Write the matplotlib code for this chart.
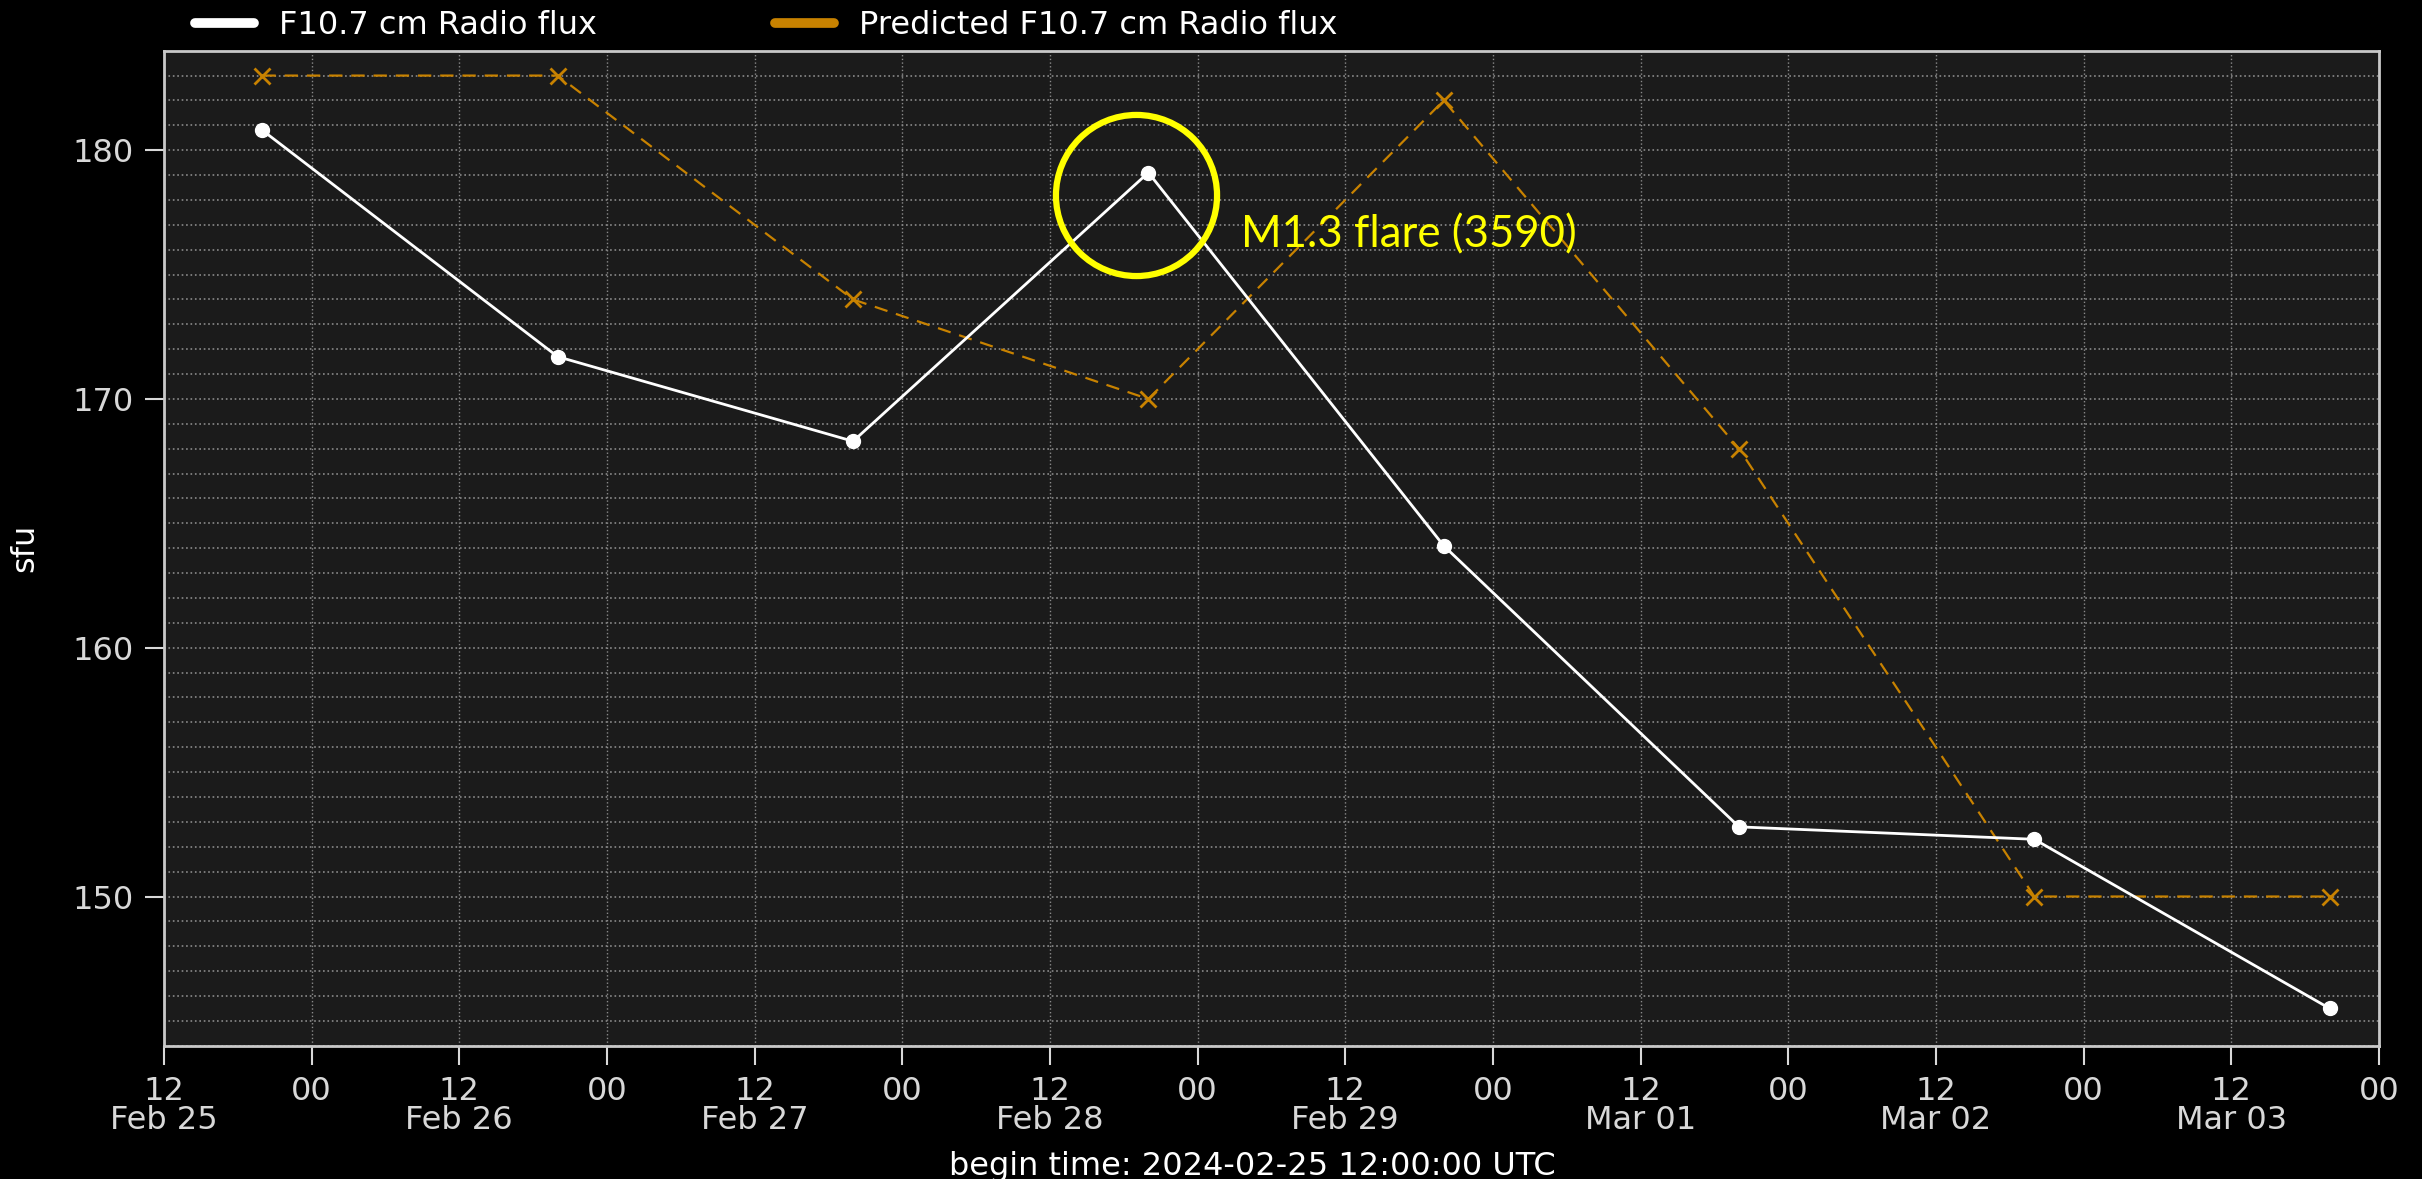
"""F10.7 cm radio flux: observed vs predicted, dark style."""

from datetime import datetime

import matplotlib
matplotlib.use("Agg")
import matplotlib.pyplot as plt
import matplotlib.dates as mdates
from matplotlib.lines import Line2D
from matplotlib.ticker import MultipleLocator, FuncFormatter

# --- data ---
dates = ["2024-02-25 20:00", "2024-02-26 20:00", "2024-02-27 20:00", "2024-02-28 20:00",
         "2024-02-29 20:00", "2024-03-01 20:00", "2024-03-02 20:00", "2024-03-03 20:00"]
observed = [180.8, 171.7, 168.3, 179.1, 164.1, 152.8, 152.3, 145.5]
predicted = [183, 183, 174, 170, 182, 168, 150, 150]

flare_label = "M1.3 flare (3590)"
flare_circle = ("2024-02-28 19:00", 178.2)
flare_text = ("2024-02-29 03:30", 176.6)
begin = "2024-02-25 12:00"
end = "2024-03-04 00:00"

ORANGE = "#c88200"
GRID = "#8a8a8a"
TXT = "#d8d8d8"
FS = 23


def ts(s):
    return datetime.strptime(s, "%Y-%m-%d %H:%M")


def main() -> None:
    x = [ts(d) for d in dates]

    fig = plt.figure(figsize=(24.22, 11.79), dpi=100, facecolor="black")
    ax = fig.add_axes([0.0677, 0.113, 0.9145, 0.844])
    ax.set_facecolor("#1b1b1b")

    ax.plot(x, observed, color="white", lw=2, marker="o", ms=10, zorder=4)
    ax.plot(x, predicted, color=ORANGE, lw=1.6, ls=(0, (6, 4)), marker="x",
            ms=12, mew=2, zorder=3)

    # flare annotation
    ax.plot([ts(flare_circle[0])], [flare_circle[1]], marker="o", ms=116,
            mfc="none", mec="yellow", mew=4.5, zorder=5)
    ax.text(ts(flare_text[0]), flare_text[1], flare_label, color="yellow",
            fontsize=31.5, family="Lato", va="center", ha="left", zorder=5)

    ax.set_xlim(ts(begin), ts(end))
    ax.set_ylim(144, 184)

    ax.xaxis.set_major_locator(mdates.HourLocator(byhour=[0, 12]))

    def fmt(v, pos):
        d = mdates.num2date(v)
        if d.hour == 12:
            return d.strftime("%H\n%b %d")
        return d.strftime("%H")

    ax.xaxis.set_major_formatter(FuncFormatter(fmt))
    ax.yaxis.set_major_locator(MultipleLocator(10))
    ax.yaxis.set_minor_locator(MultipleLocator(1))

    ax.tick_params(axis="both", which="major", colors=TXT, labelsize=FS,
                   length=14, width=1.5, pad=8)
    ax.tick_params(axis="y", which="minor", length=0)
    for lbl in ax.get_xticklabels():
        lbl.set_linespacing(0.9)

    ax.grid(True, axis="x", which="major", color=GRID, ls=":", lw=1)
    ax.grid(True, axis="y", which="both", color=GRID, ls=":", lw=1.2)
    ax.set_axisbelow(True)

    for sp in ax.spines.values():
        sp.set_color("#c8c8c8")
        sp.set_linewidth(2)

    ax.set_ylabel("sfu", color="white", fontsize=FS)
    ax.yaxis.set_label_coords(-0.056, 0.5)
    fig.text(0.517, 0.011, "begin time: 2024-02-25 12:00:00 UTC", color="white",
             fontsize=FS, ha="center", va="center")

    handles = [
        Line2D([], [], color="white", lw=7, solid_capstyle="round"),
        Line2D([], [], color=ORANGE, lw=7, solid_capstyle="round"),
    ]
    fig.legend(handles, ["F10.7 cm Radio flux", "Predicted F10.7 cm Radio flux"],
               loc="upper left", bbox_to_anchor=(0.0685, 1.016), ncol=2,
               frameon=False, fontsize=FS, labelcolor="white",
               handlelength=1.85, handletextpad=0.8, columnspacing=5.55)

    fig.savefig("out.png", dpi=100, facecolor="black")
    plt.close(fig)


if __name__ == "__main__":
    main()
